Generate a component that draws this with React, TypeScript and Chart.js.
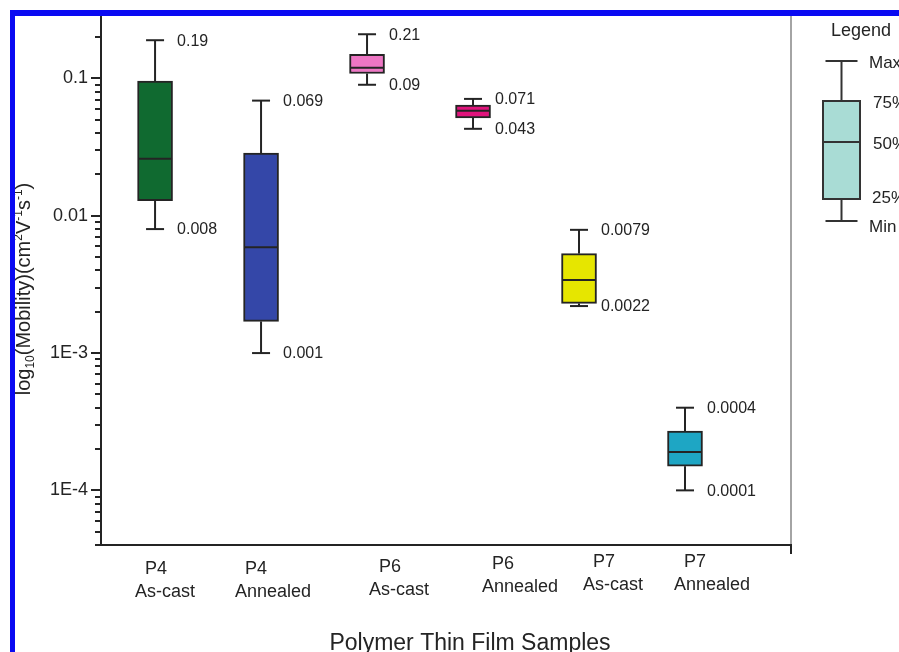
import React, { useEffect, useRef } from "react";
import { Chart, registerables } from "chart.js";

Chart.register(...registerables);

// Sample names, drawn as two-line category labels
const CATEGORIES: [string, string][] = [
  ["P4", "As-cast"],
  ["P4", "Annealed"],
  ["P6", "As-cast"],
  ["P6", "Annealed"],
  ["P7", "As-cast"],
  ["P7", "Annealed"],
];

// Box-plot statistics of the mobility (cm^2 V^-1 s^-1)
const MAX_VALUES = [0.19, 0.069, 0.21, 0.071, 0.0079, 0.0004];
const Q3_VALUES = [0.0956, 0.0286, 0.15, 0.0639, 0.0053, 0.00027];
const MEDIAN_VALUES = [0.026, 0.0059, 0.1195, 0.0581, 0.0034, 0.00019];
const Q1_VALUES = [0.0129, 0.0017, 0.1087, 0.0516, 0.0023, 0.00015];
const MIN_VALUES = [0.008, 0.001, 0.09, 0.043, 0.0022, 0.0001];

const BOX_COLORS = ["#106a30", "#3447a8", "#ee76c4", "#e0147c", "#e6e600", "#1ea6c4"];

// Labelled decades on the log axis
const Y_TICK_VALUES = [1e-4, 1e-3, 1e-2, 1e-1];
const Y_TICK_LABELS = ["1E-4", "1E-3", "0.01", "0.1"];
const Y_MIN = 4e-5;
const Y_MAX = 0.29;

const LEGEND_TITLE = "Legend";
const LEGEND_LABELS = ["Max", "75%", "50%", "25%", "Min"];

const X_TITLE = "Polymer Thin Film Samples";

// Layout constants for the hand-placed text
const CATEGORY_LABEL_SHIFT = [10, 12, 32, 47, 34, 27];
const CATEGORY_LABEL_DY = [3, 3, 1, -2, -4, -4];

const FONT = "'Liberation Sans', Arial, Helvetica, sans-serif";
const INK = "#242424";

function logTickValues(min: number, max: number): number[] {
  const out: number[] = [];
  for (let e = -6; e <= 1; e++) {
    for (let m = 1; m <= 9; m++) {
      const v = Number((m * Math.pow(10, e)).toPrecision(2));
      if (v >= min * 0.999 && v <= max * 1.001) out.push(v);
    }
  }
  return out;
}

function isDecade(v: number): boolean {
  return Y_TICK_VALUES.some((t) => Math.abs(t - v) / t < 1e-6);
}

function line(ctx: CanvasRenderingContext2D, x1: number, y1: number, x2: number, y2: number) {
  ctx.beginPath();
  ctx.moveTo(x1, y1);
  ctx.lineTo(x2, y2);
  ctx.stroke();
}

// Whiskers, caps, medians and the value labels beside them
const whiskerPlugin = {
  id: "whiskers",
  afterDatasetsDraw(chart: any) {
    const { ctx } = chart;
    const xs = chart.scales.x;
    const ys = chart.scales.y;
    ctx.save();
    ctx.strokeStyle = INK;
    ctx.lineWidth = 2;
    ctx.fillStyle = INK;
    ctx.font = `16px ${FONT}`;
    ctx.textAlign = "left";
    ctx.textBaseline = "middle";
    for (let i = 0; i < CATEGORIES.length; i++) {
      const px = xs.getPixelForValue(i + 1);
      const yMax = ys.getPixelForValue(MAX_VALUES[i]);
      const yQ3 = ys.getPixelForValue(Q3_VALUES[i]);
      const yMed = ys.getPixelForValue(MEDIAN_VALUES[i]);
      const yQ1 = ys.getPixelForValue(Q1_VALUES[i]);
      const yMin = ys.getPixelForValue(MIN_VALUES[i]);
      line(ctx, px, yQ3, px, yMax);
      line(ctx, px - 9, yMax, px + 9, yMax);
      line(ctx, px, yQ1, px, yMin);
      line(ctx, px - 9, yMin, px + 9, yMin);
      line(ctx, px - 17, yMed, px + 17, yMed);
      ctx.fillText(String(MAX_VALUES[i]), px + 22, yMax + 1);
      ctx.fillText(String(MIN_VALUES[i]), px + 22, yMin + 1);
    }
    ctx.restore();
  },
};

function drawYTitle(ctx: CanvasRenderingContext2D, cx: number, cy: number) {
  const parts = [
    { t: "log", s: 20, dy: 0 },
    { t: "10", s: 12, dy: 4 },
    { t: "(Mobility)(cm", s: 20, dy: 0 },
    { t: "2", s: 12, dy: -8 },
    { t: "V", s: 20, dy: 0 },
    { t: "-1", s: 12, dy: -8 },
    { t: "s", s: 20, dy: 0 },
    { t: "-1", s: 12, dy: -8 },
    { t: ")", s: 20, dy: 0 },
  ];
  ctx.save();
  ctx.translate(cx, cy);
  ctx.rotate(-Math.PI / 2);
  ctx.textAlign = "left";
  ctx.textBaseline = "alphabetic";
  let total = 0;
  const widths = parts.map((p) => {
    ctx.font = `${p.s}px ${FONT}`;
    const w = ctx.measureText(p.t).width;
    total += w;
    return w;
  });
  let x = -total / 2;
  parts.forEach((p, i) => {
    ctx.font = `${p.s}px ${FONT}`;
    ctx.fillText(p.t, x, p.dy);
    x += widths[i];
  });
  ctx.restore();
}

function drawLegend(ctx: CanvasRenderingContext2D) {
  ctx.save();
  ctx.fillStyle = INK;
  ctx.textAlign = "left";
  ctx.textBaseline = "middle";
  ctx.font = `18px ${FONT}`;
  ctx.fillText(LEGEND_TITLE, 831, 31);

  const cx = 841.5;
  const yTop = 61;
  const yQ3 = 101;
  const yMed = 142;
  const yQ1 = 199;
  const yBot = 221;
  ctx.strokeStyle = "#333333";
  ctx.lineWidth = 2;
  line(ctx, cx, yQ3, cx, yTop);
  line(ctx, cx - 16, yTop, cx + 16, yTop);
  line(ctx, cx, yQ1, cx, yBot);
  line(ctx, cx - 16, yBot, cx + 16, yBot);
  ctx.fillStyle = "#a9dcd5";
  ctx.fillRect(cx - 18.5, yQ3, 37, yQ1 - yQ3);
  ctx.strokeRect(cx - 18.5, yQ3, 37, yQ1 - yQ3);
  line(ctx, cx - 18.5, yMed, cx + 18.5, yMed);

  ctx.fillStyle = INK;
  ctx.font = `17px ${FONT}`;
  const spots: [number, number][] = [
    [869, 63],
    [873, 103],
    [873, 144],
    [872, 198],
    [869, 227],
  ];
  LEGEND_LABELS.forEach((lab, i) => ctx.fillText(lab, spots[i][0], spots[i][1]));
  ctx.restore();
}

// Axis decorations, titles, category labels, legend panel and frame
const framePlugin = {
  id: "frame",
  afterDraw(chart: any) {
    const { ctx, chartArea } = chart;
    const xs = chart.scales.x;
    const ys = chart.scales.y;
    const { left, right, top, bottom } = chartArea;
    ctx.save();

    // tick marks on the log axis
    ctx.strokeStyle = INK;
    ctx.lineWidth = 2;
    ys.ticks.forEach((t: any) => {
      const py = Math.round(ys.getPixelForValue(t.value));
      const len = isDecade(t.value) ? 10 : 6;
      line(ctx, left - len, py, left, py);
    });

    // right-hand divider and end tick of the category axis
    ctx.strokeStyle = "#a4a4a4";
    line(ctx, right, top, right, bottom);
    ctx.strokeStyle = INK;
    line(ctx, right, bottom - 1, right, bottom + 9);

    // category labels
    ctx.fillStyle = INK;
    ctx.font = `18px ${FONT}`;
    ctx.textAlign = "left";
    ctx.textBaseline = "middle";
    CATEGORIES.forEach(([l1, l2], i) => {
      const cx = xs.getPixelForValue(i + 1) + CATEGORY_LABEL_SHIFT[i];
      const w2 = ctx.measureText(l2).width;
      const lx = cx - w2 / 2;
      ctx.fillText(l1, lx + 10, bottom + 21 + CATEGORY_LABEL_DY[i]);
      ctx.fillText(l2, lx, bottom + 44 + CATEGORY_LABEL_DY[i]);
    });

    // axis titles
    ctx.font = `23px ${FONT}`;
    ctx.textAlign = "center";
    ctx.textBaseline = "alphabetic";
    ctx.fillText(X_TITLE, 470, 650);
    drawYTitle(ctx, 30, 289);

    drawLegend(ctx);

    // blue frame along the top and left edges
    ctx.fillStyle = "#0a0af2";
    ctx.fillRect(10, 10, 889, 6);
    ctx.fillRect(10, 10, 5, 642);
    ctx.restore();
  },
};

export default function App() {
  const canvasRef = useRef<HTMLCanvasElement | null>(null);

  useEffect(() => {
    const canvas = canvasRef.current;
    if (!canvas) return;
    const chart = new Chart(canvas, {
      type: "bar",
      data: {
        datasets: [
          {
            label: "Mobility",
            data: CATEGORIES.map((_, i) => ({ x: i + 1, y: [Q1_VALUES[i], Q3_VALUES[i]] })) as any,
            backgroundColor: BOX_COLORS,
            borderColor: INK,
            borderWidth: 2,
            borderSkipped: false,
            barThickness: 35,
          },
        ],
      },
      options: {
        responsive: false,
        animation: false,
        devicePixelRatio: 1,
        events: [],
        layout: { padding: { left: 0, top: 15, right: 108, bottom: 0 } },
        plugins: {
          legend: { display: false },
          tooltip: { enabled: false },
          title: { display: false },
        },
        scales: {
          x: {
            type: "linear",
            min: 0.49,
            max: 7.0,
            offset: false,
            grid: { display: false, drawTicks: false, offset: false },
            border: { display: true, color: INK, width: 2 },
            ticks: { display: false },
            afterFit: (scale: any) => {
              scale.height = 107;
              scale.paddingLeft = 0;
              scale.paddingRight = 0;
            },
          },
          y: {
            type: "logarithmic",
            min: Y_MIN,
            max: Y_MAX,
            grid: { display: false, drawTicks: false },
            border: { display: true, color: INK, width: 2 },
            afterBuildTicks: (scale: any) => {
              scale.ticks = logTickValues(Y_MIN, Y_MAX).map((v) => ({ value: v }));
            },
            ticks: {
              autoSkip: false,
              padding: 13,
              color: INK,
              font: { family: FONT, size: 18 },
              callback: (value: any) => {
                const v = Number(value);
                const k = Y_TICK_VALUES.findIndex((t) => Math.abs(t - v) / t < 1e-6);
                return k >= 0 ? Y_TICK_LABELS[k] : "";
              },
            },
            afterFit: (scale: any) => {
              scale.width = 101;
              scale.paddingTop = 0;
              scale.paddingBottom = 0;
            },
          },
        },
      },
      plugins: [whiskerPlugin, framePlugin],
    });
    return () => chart.destroy();
  }, []);

  return (
    <div style={{ position: "fixed", left: 0, top: 0, width: 899, height: 652, background: "#ffffff" }}>
      <canvas ref={canvasRef} width={899} height={652} style={{ display: "block", width: 899, height: 652 }} />
    </div>
  );
}
